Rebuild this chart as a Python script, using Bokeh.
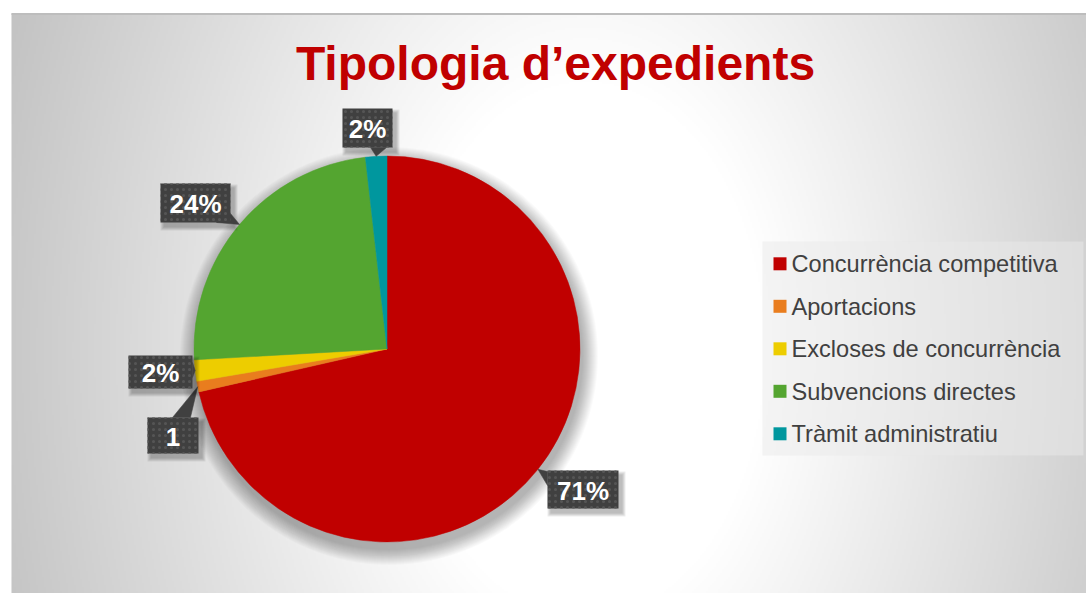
import numpy as np
from bokeh.plotting import figure
from bokeh.models import Range1d, ColumnDataSource
from bokeh.core.properties import value
from bokeh.embed import file_html
from bokeh.resources import INLINE

# ---------------- data ----------------
categories = ["Concurrència competitiva", "Aportacions", "Excloses de concurrència",
              "Subvencions directes", "Tràmit administratiu"]
counts = [80, 1, 2, 27, 2]
label_texts = ["71%", "1", "2%", "24%", "2%"]
colors = ["#C00000", "#E97D1E", "#EDCD00", "#54A530", "#00979E"]
title_text = "Tipologia d’expedients"

# ---------------- layout (screen px, y downwards) ----------------
W, H = 1086, 593
CX, CY, R = 386.5, 348.5, 193.0
FONT = value("Liberation Sans")


def Y(y):
    return H - y


# label boxes: (x0, y0, x1, y1) and pointer base points
boxes = [(547, 470, 618, 508), (147, 417, 198, 453), (128, 355, 192, 388),
         (160, 183, 230, 222), (342, 108, 392, 147)]
bases = [((547, 471), (547, 485)), ((172, 417), (190, 417)), ((192, 362), (192, 377)),
         ((216, 222), (230, 213)), ((370, 147), (386, 147))]

p = figure(width=W, height=H, x_range=Range1d(0, W), y_range=Range1d(0, H),
           output_backend="svg", toolbar_location=None, min_border=0,
           x_axis_type=None, y_axis_type=None)
p.grid.visible = False
p.outline_line_color = None
p.background_fill_color = "white"
p.border_fill_color = "white"

# ---------------- background gradient ----------------
bx0, by0 = 11, 13
bw, bh = W - bx0, H - by0
res = 2
nx, ny = bw // res, bh // res
xs = np.linspace(bx0, W, nx)
ys_scr = np.linspace(H, by0, ny)
gx, gy = np.meshgrid(xs, ys_scr)
d = np.sqrt(((gx - 585) / 600.0) ** 2 + ((gy - 350) / 900.0) ** 2)
val = 255 - 62 * np.clip((d - 0.3) / 0.75, 0, 1)
img = np.empty((ny, nx), dtype=np.uint32)
view = img.view(dtype=np.uint8).reshape((ny, nx, 4))
view[..., 0] = val
view[..., 1] = val
view[..., 2] = val
view[..., 3] = 255
p.image_rgba(image=[img], x=bx0, y=0, dw=bw, dh=bh)
p.segment(x0=[bx0], y0=[Y(13.5)], x1=[W], y1=[Y(13.5)], line_color="#bdbdbd", line_width=2)

# ---------------- pie shadow ----------------
for k in range(16):
    p.circle(x=[CX + 2], y=[Y(CY + 7)], radius=R + 16 - k, fill_color="black",
             fill_alpha=0.018, line_color=None)

# ---------------- pie ----------------
total = float(sum(counts))
frac = np.array(counts) / total
cum = np.concatenate([[0.0], np.cumsum(frac)]) * 2 * np.pi
src = ColumnDataSource(dict(start=np.pi / 2 - cum[:-1], end=np.pi / 2 - cum[1:],
                            color=colors, cat=categories))
p.wedge(x=CX, y=Y(CY), radius=R, start_angle="start", end_angle="end",
        direction="clock", fill_color="color", line_color="color", line_width=0.5,
        source=src)

# ---------------- data labels (callouts) ----------------
mid = (cum[:-1] + cum[1:]) / 2
tip_x = CX + R * np.sin(mid)
tip_y = CY - R * np.cos(mid)

for i, (b, bs) in enumerate(zip(boxes, bases)):
    x0, y0, x1, y1 = b
    # soft shadow
    for s in range(4):
        p.quad(left=[x0 + 3 - s], right=[x1 + 4 + s], top=[Y(y0 + 4 - s)], bottom=[Y(y1 + 5 + s)],
               fill_color="black", fill_alpha=0.07, line_color=None)
    # pointer
    p.patch(x=[bs[0][0], bs[1][0], tip_x[i]], y=[Y(bs[0][1]), Y(bs[1][1]), Y(tip_y[i])],
            fill_color="#404040", line_color="#404040", line_width=0.5)
    # box
    p.quad(left=[x0], right=[x1], top=[Y(y0)], bottom=[Y(y1)], fill_color="#404040",
           line_color=None, hatch_pattern=".", hatch_color="#555555", hatch_scale=6,
           hatch_weight=1)

lab_x = [(b[0] + b[2]) / 2 for b in boxes]
lab_y = [Y((b[1] + b[3]) / 2 + 1) for b in boxes]
p.text(x=lab_x, y=lab_y, text=label_texts, text_font=FONT, text_font_style="bold",
       text_font_size="26px", text_color="white", text_align="center",
       text_baseline="middle")

# ---------------- legend ----------------
p.quad(left=[762], right=[1083], top=[Y(241)], bottom=[Y(455)], fill_color="#eaeaea",
       fill_alpha=0.5, line_color=None)
rows = [Y(263.3 + 42.5 * i) for i in range(len(categories))]
p.rect(x=[779.5] * len(categories), y=rows, width=13, height=13, fill_color=colors,
       line_color=None)
p.text(x=[791] * len(categories), y=[r - 0.5 for r in rows], text=categories, text_font=FONT,
       text_font_size="23.6px", text_color="#404040", text_align="left",
       text_baseline="middle")

# ---------------- title ----------------
p.text(x=[555], y=[Y(63)], text=[title_text], text_font=FONT, text_font_style="bold",
       text_font_size="48px", text_color="#C00000", text_align="center",
       text_baseline="middle")

open("out.html", "w").write(file_html(p, INLINE))
